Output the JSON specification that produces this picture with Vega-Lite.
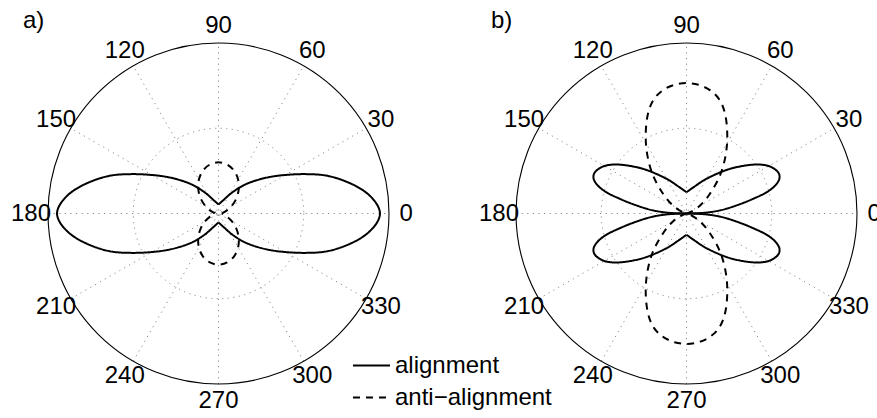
{
  "$schema": "https://vega.github.io/schema/vega-lite/v6.json",
  "background": "white",
  "padding": {"left": 10, "top": 8, "right": 0, "bottom": 0},
  "bounds": "flush",
  "spacing": 127,
  "config": {
    "view": {"stroke": null},
    "font": "Liberation Sans",
    "title": {"fontSize": 24, "fontWeight": "normal", "font": "Liberation Sans", "color": "black", "anchor": "start", "frame": "group"}
  },
  "datasets": {
    "spokes": [
      {"x": -1, "y": 0, "x2": 1, "y2": 0},
      {"x": -0.866, "y": -0.5, "x2": 0.866, "y2": 0.5},
      {"x": -0.5, "y": -0.866, "x2": 0.5, "y2": 0.866},
      {"x": 0, "y": -1, "x2": 0, "y2": 1},
      {"x": 0.5, "y": -0.866, "x2": -0.5, "y2": 0.866},
      {"x": 0.866, "y": -0.5, "x2": -0.866, "y2": 0.5}
    ],
    "center": [{"x": 0, "y": 0}],
    "labels": [
      {"t": "0", "x": 1.1, "y": 0},
      {"t": "30", "x": 0.9526, "y": 0.55},
      {"t": "60", "x": 0.55, "y": 0.9526},
      {"t": "90", "x": 0, "y": 1.1},
      {"t": "120", "x": -0.55, "y": 0.9526},
      {"t": "150", "x": -0.9526, "y": 0.55},
      {"t": "180", "x": -1.1, "y": 0},
      {"t": "210", "x": -0.9526, "y": -0.55},
      {"t": "240", "x": -0.55, "y": -0.9526},
      {"t": "270", "x": 0, "y": -1.1},
      {"t": "300", "x": 0.55, "y": -0.9526},
      {"t": "330", "x": 0.9526, "y": -0.55}
    ],
    "curvesA": [
      {"p": "a1", "s": "alignment", "i": 0, "x": 0, "y": 0.053},
      {"p": "a1", "s": "alignment", "i": 1, "x": 0.036, "y": 0.085},
      {"p": "a1", "s": "alignment", "i": 2, "x": 0.072, "y": 0.117},
      {"p": "a1", "s": "alignment", "i": 3, "x": 0.15, "y": 0.167},
      {"p": "a1", "s": "alignment", "i": 4, "x": 0.248, "y": 0.202},
      {"p": "a1", "s": "alignment", "i": 5, "x": 0.345, "y": 0.221},
      {"p": "a1", "s": "alignment", "i": 6, "x": 0.501, "y": 0.231},
      {"p": "a1", "s": "alignment", "i": 7, "x": 0.639, "y": 0.221},
      {"p": "a1", "s": "alignment", "i": 8, "x": 0.775, "y": 0.176},
      {"p": "a1", "s": "alignment", "i": 9, "x": 0.873, "y": 0.117},
      {"p": "a1", "s": "alignment", "i": 10, "x": 0.932, "y": 0.049},
      {"p": "a1", "s": "alignment", "i": 11, "x": 0.947, "y": 0},
      {"p": "a1", "s": "alignment", "i": 12, "x": 0.932, "y": -0.049},
      {"p": "a1", "s": "alignment", "i": 13, "x": 0.873, "y": -0.117},
      {"p": "a1", "s": "alignment", "i": 14, "x": 0.775, "y": -0.176},
      {"p": "a1", "s": "alignment", "i": 15, "x": 0.639, "y": -0.221},
      {"p": "a1", "s": "alignment", "i": 16, "x": 0.501, "y": -0.231},
      {"p": "a1", "s": "alignment", "i": 17, "x": 0.345, "y": -0.221},
      {"p": "a1", "s": "alignment", "i": 18, "x": 0.248, "y": -0.202},
      {"p": "a1", "s": "alignment", "i": 19, "x": 0.15, "y": -0.167},
      {"p": "a1", "s": "alignment", "i": 20, "x": 0.072, "y": -0.117},
      {"p": "a1", "s": "alignment", "i": 21, "x": 0.036, "y": -0.085},
      {"p": "a1", "s": "alignment", "i": 22, "x": 0, "y": -0.053},
      {"p": "a2", "s": "alignment", "i": 0, "x": 0, "y": 0.053},
      {"p": "a2", "s": "alignment", "i": 1, "x": -0.036, "y": 0.085},
      {"p": "a2", "s": "alignment", "i": 2, "x": -0.072, "y": 0.117},
      {"p": "a2", "s": "alignment", "i": 3, "x": -0.15, "y": 0.167},
      {"p": "a2", "s": "alignment", "i": 4, "x": -0.248, "y": 0.202},
      {"p": "a2", "s": "alignment", "i": 5, "x": -0.345, "y": 0.221},
      {"p": "a2", "s": "alignment", "i": 6, "x": -0.501, "y": 0.231},
      {"p": "a2", "s": "alignment", "i": 7, "x": -0.639, "y": 0.221},
      {"p": "a2", "s": "alignment", "i": 8, "x": -0.775, "y": 0.176},
      {"p": "a2", "s": "alignment", "i": 9, "x": -0.873, "y": 0.117},
      {"p": "a2", "s": "alignment", "i": 10, "x": -0.932, "y": 0.049},
      {"p": "a2", "s": "alignment", "i": 11, "x": -0.947, "y": 0},
      {"p": "a2", "s": "alignment", "i": 12, "x": -0.932, "y": -0.049},
      {"p": "a2", "s": "alignment", "i": 13, "x": -0.873, "y": -0.117},
      {"p": "a2", "s": "alignment", "i": 14, "x": -0.775, "y": -0.176},
      {"p": "a2", "s": "alignment", "i": 15, "x": -0.639, "y": -0.221},
      {"p": "a2", "s": "alignment", "i": 16, "x": -0.501, "y": -0.231},
      {"p": "a2", "s": "alignment", "i": 17, "x": -0.345, "y": -0.221},
      {"p": "a2", "s": "alignment", "i": 18, "x": -0.248, "y": -0.202},
      {"p": "a2", "s": "alignment", "i": 19, "x": -0.15, "y": -0.167},
      {"p": "a2", "s": "alignment", "i": 20, "x": -0.072, "y": -0.117},
      {"p": "a2", "s": "alignment", "i": 21, "x": -0.036, "y": -0.085},
      {"p": "a2", "s": "alignment", "i": 22, "x": 0, "y": -0.053},
      {"p": "a3", "s": "anti−alignment", "i": 0, "x": 0.02, "y": 0},
      {"p": "a3", "s": "anti−alignment", "i": 1, "x": 0.0281, "y": 0.0049},
      {"p": "a3", "s": "anti−alignment", "i": 2, "x": 0.0496, "y": 0.0181},
      {"p": "a3", "s": "anti−alignment", "i": 3, "x": 0.0779, "y": 0.045},
      {"p": "a3", "s": "anti−alignment", "i": 4, "x": 0.104, "y": 0.0872},
      {"p": "a3", "s": "anti−alignment", "i": 5, "x": 0.1185, "y": 0.1412},
      {"p": "a3", "s": "anti−alignment", "i": 6, "x": 0.115, "y": 0.1992},
      {"p": "a3", "s": "anti−alignment", "i": 7, "x": 0.0914, "y": 0.2512},
      {"p": "a3", "s": "anti−alignment", "i": 8, "x": 0.0506, "y": 0.2871},
      {"p": "a3", "s": "anti−alignment", "i": 9, "x": 0, "y": 0.3},
      {"p": "a3", "s": "anti−alignment", "i": 10, "x": -0.0506, "y": 0.2871},
      {"p": "a3", "s": "anti−alignment", "i": 11, "x": -0.0914, "y": 0.2512},
      {"p": "a3", "s": "anti−alignment", "i": 12, "x": -0.115, "y": 0.1992},
      {"p": "a3", "s": "anti−alignment", "i": 13, "x": -0.1185, "y": 0.1412},
      {"p": "a3", "s": "anti−alignment", "i": 14, "x": -0.104, "y": 0.0872},
      {"p": "a3", "s": "anti−alignment", "i": 15, "x": -0.0779, "y": 0.045},
      {"p": "a3", "s": "anti−alignment", "i": 16, "x": -0.0496, "y": 0.0181},
      {"p": "a3", "s": "anti−alignment", "i": 17, "x": -0.0281, "y": 0.0049},
      {"p": "a3", "s": "anti−alignment", "i": 18, "x": -0.02, "y": 0},
      {"p": "a3", "s": "anti−alignment", "i": 19, "x": -0.0281, "y": -0.0049},
      {"p": "a3", "s": "anti−alignment", "i": 20, "x": -0.0496, "y": -0.0181},
      {"p": "a3", "s": "anti−alignment", "i": 21, "x": -0.0779, "y": -0.045},
      {"p": "a3", "s": "anti−alignment", "i": 22, "x": -0.104, "y": -0.0872},
      {"p": "a3", "s": "anti−alignment", "i": 23, "x": -0.1185, "y": -0.1412},
      {"p": "a3", "s": "anti−alignment", "i": 24, "x": -0.115, "y": -0.1992},
      {"p": "a3", "s": "anti−alignment", "i": 25, "x": -0.0914, "y": -0.2512},
      {"p": "a3", "s": "anti−alignment", "i": 26, "x": -0.0506, "y": -0.2871},
      {"p": "a3", "s": "anti−alignment", "i": 27, "x": 0, "y": -0.3},
      {"p": "a3", "s": "anti−alignment", "i": 28, "x": 0.0506, "y": -0.2871},
      {"p": "a3", "s": "anti−alignment", "i": 29, "x": 0.0914, "y": -0.2512},
      {"p": "a3", "s": "anti−alignment", "i": 30, "x": 0.115, "y": -0.1992},
      {"p": "a3", "s": "anti−alignment", "i": 31, "x": 0.1185, "y": -0.1412},
      {"p": "a3", "s": "anti−alignment", "i": 32, "x": 0.104, "y": -0.0872},
      {"p": "a3", "s": "anti−alignment", "i": 33, "x": 0.0779, "y": -0.045},
      {"p": "a3", "s": "anti−alignment", "i": 34, "x": 0.0496, "y": -0.0181},
      {"p": "a3", "s": "anti−alignment", "i": 35, "x": 0.0281, "y": -0.0049},
      {"p": "a3", "s": "anti−alignment", "i": 36, "x": 0.02, "y": 0}
    ],
    "curvesB": [
      {"p": "b1", "s": "alignment", "i": 0, "x": 0, "y": 0},
      {"p": "b1", "s": "alignment", "i": 1, "x": 0.102, "y": 0.004},
      {"p": "b1", "s": "alignment", "i": 2, "x": 0.2, "y": 0.019},
      {"p": "b1", "s": "alignment", "i": 3, "x": 0.298, "y": 0.049},
      {"p": "b1", "s": "alignment", "i": 4, "x": 0.395, "y": 0.088},
      {"p": "b1", "s": "alignment", "i": 5, "x": 0.474, "y": 0.127},
      {"p": "b1", "s": "alignment", "i": 6, "x": 0.522, "y": 0.166},
      {"p": "b1", "s": "alignment", "i": 7, "x": 0.545, "y": 0.205},
      {"p": "b1", "s": "alignment", "i": 8, "x": 0.54, "y": 0.238},
      {"p": "b1", "s": "alignment", "i": 9, "x": 0.496, "y": 0.273},
      {"p": "b1", "s": "alignment", "i": 10, "x": 0.434, "y": 0.287},
      {"p": "b1", "s": "alignment", "i": 11, "x": 0.357, "y": 0.283},
      {"p": "b1", "s": "alignment", "i": 12, "x": 0.259, "y": 0.263},
      {"p": "b1", "s": "alignment", "i": 13, "x": 0.181, "y": 0.234},
      {"p": "b1", "s": "alignment", "i": 14, "x": 0.102, "y": 0.195},
      {"p": "b1", "s": "alignment", "i": 15, "x": 0.044, "y": 0.156},
      {"p": "b1", "s": "alignment", "i": 16, "x": 0, "y": 0.125},
      {"p": "b2", "s": "alignment", "i": 0, "x": 0, "y": 0},
      {"p": "b2", "s": "alignment", "i": 1, "x": -0.102, "y": 0.004},
      {"p": "b2", "s": "alignment", "i": 2, "x": -0.2, "y": 0.019},
      {"p": "b2", "s": "alignment", "i": 3, "x": -0.298, "y": 0.049},
      {"p": "b2", "s": "alignment", "i": 4, "x": -0.395, "y": 0.088},
      {"p": "b2", "s": "alignment", "i": 5, "x": -0.474, "y": 0.127},
      {"p": "b2", "s": "alignment", "i": 6, "x": -0.522, "y": 0.166},
      {"p": "b2", "s": "alignment", "i": 7, "x": -0.545, "y": 0.205},
      {"p": "b2", "s": "alignment", "i": 8, "x": -0.54, "y": 0.238},
      {"p": "b2", "s": "alignment", "i": 9, "x": -0.496, "y": 0.273},
      {"p": "b2", "s": "alignment", "i": 10, "x": -0.434, "y": 0.287},
      {"p": "b2", "s": "alignment", "i": 11, "x": -0.357, "y": 0.283},
      {"p": "b2", "s": "alignment", "i": 12, "x": -0.259, "y": 0.263},
      {"p": "b2", "s": "alignment", "i": 13, "x": -0.181, "y": 0.234},
      {"p": "b2", "s": "alignment", "i": 14, "x": -0.102, "y": 0.195},
      {"p": "b2", "s": "alignment", "i": 15, "x": -0.044, "y": 0.156},
      {"p": "b2", "s": "alignment", "i": 16, "x": 0, "y": 0.125},
      {"p": "b3", "s": "alignment", "i": 0, "x": 0, "y": 0},
      {"p": "b3", "s": "alignment", "i": 1, "x": -0.102, "y": -0.004},
      {"p": "b3", "s": "alignment", "i": 2, "x": -0.2, "y": -0.019},
      {"p": "b3", "s": "alignment", "i": 3, "x": -0.298, "y": -0.049},
      {"p": "b3", "s": "alignment", "i": 4, "x": -0.395, "y": -0.088},
      {"p": "b3", "s": "alignment", "i": 5, "x": -0.474, "y": -0.127},
      {"p": "b3", "s": "alignment", "i": 6, "x": -0.522, "y": -0.166},
      {"p": "b3", "s": "alignment", "i": 7, "x": -0.545, "y": -0.205},
      {"p": "b3", "s": "alignment", "i": 8, "x": -0.54, "y": -0.238},
      {"p": "b3", "s": "alignment", "i": 9, "x": -0.496, "y": -0.273},
      {"p": "b3", "s": "alignment", "i": 10, "x": -0.434, "y": -0.287},
      {"p": "b3", "s": "alignment", "i": 11, "x": -0.357, "y": -0.283},
      {"p": "b3", "s": "alignment", "i": 12, "x": -0.259, "y": -0.263},
      {"p": "b3", "s": "alignment", "i": 13, "x": -0.181, "y": -0.234},
      {"p": "b3", "s": "alignment", "i": 14, "x": -0.102, "y": -0.195},
      {"p": "b3", "s": "alignment", "i": 15, "x": -0.044, "y": -0.156},
      {"p": "b3", "s": "alignment", "i": 16, "x": 0, "y": -0.125},
      {"p": "b4", "s": "alignment", "i": 0, "x": 0, "y": 0},
      {"p": "b4", "s": "alignment", "i": 1, "x": 0.102, "y": -0.004},
      {"p": "b4", "s": "alignment", "i": 2, "x": 0.2, "y": -0.019},
      {"p": "b4", "s": "alignment", "i": 3, "x": 0.298, "y": -0.049},
      {"p": "b4", "s": "alignment", "i": 4, "x": 0.395, "y": -0.088},
      {"p": "b4", "s": "alignment", "i": 5, "x": 0.474, "y": -0.127},
      {"p": "b4", "s": "alignment", "i": 6, "x": 0.522, "y": -0.166},
      {"p": "b4", "s": "alignment", "i": 7, "x": 0.545, "y": -0.205},
      {"p": "b4", "s": "alignment", "i": 8, "x": 0.54, "y": -0.238},
      {"p": "b4", "s": "alignment", "i": 9, "x": 0.496, "y": -0.273},
      {"p": "b4", "s": "alignment", "i": 10, "x": 0.434, "y": -0.287},
      {"p": "b4", "s": "alignment", "i": 11, "x": 0.357, "y": -0.283},
      {"p": "b4", "s": "alignment", "i": 12, "x": 0.259, "y": -0.263},
      {"p": "b4", "s": "alignment", "i": 13, "x": 0.181, "y": -0.234},
      {"p": "b4", "s": "alignment", "i": 14, "x": 0.102, "y": -0.195},
      {"p": "b4", "s": "alignment", "i": 15, "x": 0.044, "y": -0.156},
      {"p": "b4", "s": "alignment", "i": 16, "x": 0, "y": -0.125},
      {"p": "b5", "s": "anti−alignment", "i": 0, "x": 0, "y": 0},
      {"p": "b5", "s": "anti−alignment", "i": 1, "x": 0.0209, "y": 0.0076},
      {"p": "b5", "s": "anti−alignment", "i": 2, "x": 0.075, "y": 0.043},
      {"p": "b5", "s": "anti−alignment", "i": 3, "x": 0.1364, "y": 0.1144},
      {"p": "b5", "s": "anti−alignment", "i": 4, "x": 0.2041, "y": 0.2432},
      {"p": "b5", "s": "anti−alignment", "i": 5, "x": 0.238, "y": 0.4122},
      {"p": "b5", "s": "anti−alignment", "i": 6, "x": 0.226, "y": 0.585},
      {"p": "b5", "s": "anti−alignment", "i": 7, "x": 0.19, "y": 0.672},
      {"p": "b5", "s": "anti−alignment", "i": 8, "x": 0.135, "y": 0.725},
      {"p": "b5", "s": "anti−alignment", "i": 9, "x": 0.07, "y": 0.755},
      {"p": "b5", "s": "anti−alignment", "i": 10, "x": 0, "y": 0.765},
      {"p": "b5", "s": "anti−alignment", "i": 11, "x": -0.07, "y": 0.755},
      {"p": "b5", "s": "anti−alignment", "i": 12, "x": -0.135, "y": 0.725},
      {"p": "b5", "s": "anti−alignment", "i": 13, "x": -0.19, "y": 0.672},
      {"p": "b5", "s": "anti−alignment", "i": 14, "x": -0.226, "y": 0.585},
      {"p": "b5", "s": "anti−alignment", "i": 15, "x": -0.238, "y": 0.4122},
      {"p": "b5", "s": "anti−alignment", "i": 16, "x": -0.2041, "y": 0.2432},
      {"p": "b5", "s": "anti−alignment", "i": 17, "x": -0.1364, "y": 0.1144},
      {"p": "b5", "s": "anti−alignment", "i": 18, "x": -0.075, "y": 0.043},
      {"p": "b5", "s": "anti−alignment", "i": 19, "x": -0.0209, "y": 0.0076},
      {"p": "b5", "s": "anti−alignment", "i": 20, "x": 0, "y": 0},
      {"p": "b6", "s": "anti−alignment", "i": 0, "x": 0, "y": 0},
      {"p": "b6", "s": "anti−alignment", "i": 1, "x": -0.0209, "y": -0.0076},
      {"p": "b6", "s": "anti−alignment", "i": 2, "x": -0.075, "y": -0.043},
      {"p": "b6", "s": "anti−alignment", "i": 3, "x": -0.1364, "y": -0.1144},
      {"p": "b6", "s": "anti−alignment", "i": 4, "x": -0.2041, "y": -0.2432},
      {"p": "b6", "s": "anti−alignment", "i": 5, "x": -0.238, "y": -0.4122},
      {"p": "b6", "s": "anti−alignment", "i": 6, "x": -0.226, "y": -0.585},
      {"p": "b6", "s": "anti−alignment", "i": 7, "x": -0.19, "y": -0.672},
      {"p": "b6", "s": "anti−alignment", "i": 8, "x": -0.135, "y": -0.725},
      {"p": "b6", "s": "anti−alignment", "i": 9, "x": -0.07, "y": -0.755},
      {"p": "b6", "s": "anti−alignment", "i": 10, "x": 0, "y": -0.765},
      {"p": "b6", "s": "anti−alignment", "i": 11, "x": 0.07, "y": -0.755},
      {"p": "b6", "s": "anti−alignment", "i": 12, "x": 0.135, "y": -0.725},
      {"p": "b6", "s": "anti−alignment", "i": 13, "x": 0.19, "y": -0.672},
      {"p": "b6", "s": "anti−alignment", "i": 14, "x": 0.226, "y": -0.585},
      {"p": "b6", "s": "anti−alignment", "i": 15, "x": 0.238, "y": -0.4122},
      {"p": "b6", "s": "anti−alignment", "i": 16, "x": 0.2041, "y": -0.2432},
      {"p": "b6", "s": "anti−alignment", "i": 17, "x": 0.1364, "y": -0.1144},
      {"p": "b6", "s": "anti−alignment", "i": 18, "x": 0.075, "y": -0.043},
      {"p": "b6", "s": "anti−alignment", "i": 19, "x": 0.0209, "y": -0.0076},
      {"p": "b6", "s": "anti−alignment", "i": 20, "x": 0, "y": 0}
    ]
  },
  "resolve": {"scale": {"strokeDash": "independent"}, "legend": {"strokeDash": "independent"}},
  "hconcat": [
    {
      "width": 341,
      "height": 341,
      "title": {"text": "a)", "dx": -25, "offset": -19},
      "layer": [
        {
          "data": {"name": "spokes"},
          "mark": {"type": "rule", "color": "#8a8a8a", "strokeWidth": 1, "strokeDash": [1.2, 4.4]},
          "encoding": {
            "x": {"field": "x", "type": "quantitative", "scale": {"domain": [-1, 1], "nice": false, "zero": false}, "axis": null},
            "y": {"field": "y", "type": "quantitative", "scale": {"domain": [-1, 1], "nice": false, "zero": false}, "axis": null},
            "x2": {"field": "x2"},
            "y2": {"field": "y2"}
          }
        },
        {
          "data": {"name": "center"},
          "mark": {"type": "point", "shape": "circle", "filled": false, "size": 29070, "stroke": "#8a8a8a", "strokeWidth": 1, "strokeDash": [1.2, 4.4], "opacity": 1},
          "encoding": {
            "x": {"field": "x", "type": "quantitative"},
            "y": {"field": "y", "type": "quantitative"}
          }
        },
        {
          "data": {"name": "center"},
          "mark": {"type": "point", "shape": "circle", "filled": false, "size": 116281, "stroke": "black", "strokeWidth": 1.1, "opacity": 1},
          "encoding": {
            "x": {"field": "x", "type": "quantitative"},
            "y": {"field": "y", "type": "quantitative"}
          }
        },
        {
          "data": {"name": "curvesA"},
          "mark": {"type": "line", "interpolate": "catmull-rom", "color": "black", "strokeWidth": 2},
          "encoding": {
            "x": {"field": "x", "type": "quantitative"},
            "y": {"field": "y", "type": "quantitative"},
            "detail": {"field": "p", "type": "nominal"},
            "order": {"field": "i", "type": "quantitative"},
            "strokeDash": {
              "field": "s", "type": "nominal",
              "scale": {"domain": ["alignment", "anti−alignment"], "range": [[1, 0], [7, 6]]},
              "legend": {
                "orient": "none", "legendX": 304, "legendY": 303, "title": null,
                "symbolType": "stroke", "symbolSize": 1369, "symbolStrokeWidth": 2, "symbolStrokeColor": "black",
                "labelFontSize": 24, "labelFont": "Liberation Sans", "labelColor": "black", "labelOffset": 4,
                "labelLimit": 400, "rowPadding": 0, "padding": 0
              }
            }
          }
        },
        {
          "data": {"name": "labels"},
          "mark": {"type": "text", "fontSize": 24, "font": "Liberation Sans", "align": "center", "baseline": "middle", "color": "black"},
          "encoding": {
            "x": {"field": "x", "type": "quantitative"},
            "y": {"field": "y", "type": "quantitative"},
            "text": {"field": "t"}
          }
        }
      ]
    },
    {
      "width": 341,
      "height": 341,
      "title": {"text": "b)", "dx": -25, "offset": -19},
      "layer": [
        {
          "data": {"name": "spokes"},
          "mark": {"type": "rule", "color": "#8a8a8a", "strokeWidth": 1, "strokeDash": [1.2, 4.4]},
          "encoding": {
            "x": {"field": "x", "type": "quantitative", "scale": {"domain": [-1, 1], "nice": false, "zero": false}, "axis": null},
            "y": {"field": "y", "type": "quantitative", "scale": {"domain": [-1, 1], "nice": false, "zero": false}, "axis": null},
            "x2": {"field": "x2"},
            "y2": {"field": "y2"}
          }
        },
        {
          "data": {"name": "center"},
          "mark": {"type": "point", "shape": "circle", "filled": false, "size": 29070, "stroke": "#8a8a8a", "strokeWidth": 1, "strokeDash": [1.2, 4.4], "opacity": 1},
          "encoding": {
            "x": {"field": "x", "type": "quantitative"},
            "y": {"field": "y", "type": "quantitative"}
          }
        },
        {
          "data": {"name": "center"},
          "mark": {"type": "point", "shape": "circle", "filled": false, "size": 116281, "stroke": "black", "strokeWidth": 1.1, "opacity": 1},
          "encoding": {
            "x": {"field": "x", "type": "quantitative"},
            "y": {"field": "y", "type": "quantitative"}
          }
        },
        {
          "data": {"name": "curvesB"},
          "mark": {"type": "line", "interpolate": "catmull-rom", "color": "black", "strokeWidth": 2},
          "encoding": {
            "x": {"field": "x", "type": "quantitative"},
            "y": {"field": "y", "type": "quantitative"},
            "detail": {"field": "p", "type": "nominal"},
            "order": {"field": "i", "type": "quantitative"},
            "strokeDash": {
              "field": "s", "type": "nominal",
              "scale": {"domain": ["alignment", "anti−alignment"], "range": [[1, 0], [7, 6]]},
              "legend": null
            }
          }
        },
        {
          "data": {"name": "labels"},
          "mark": {"type": "text", "fontSize": 24, "font": "Liberation Sans", "align": "center", "baseline": "middle", "color": "black"},
          "encoding": {
            "x": {"field": "x", "type": "quantitative"},
            "y": {"field": "y", "type": "quantitative"},
            "text": {"field": "t"}
          }
        }
      ]
    }
  ]
}
